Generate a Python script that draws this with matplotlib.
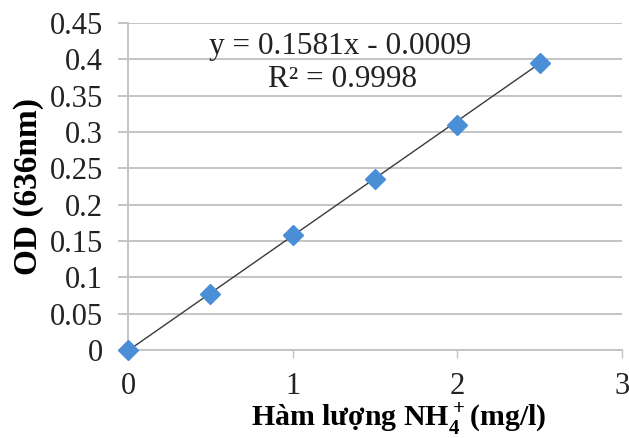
import numpy as np
import matplotlib.pyplot as plt

plt.rcParams['font.family'] = ['Liberation Serif', 'DejaVu Serif']
plt.rcParams['mathtext.fontset'] = 'custom'
plt.rcParams['mathtext.rm'] = 'Liberation Serif:bold'
plt.rcParams['mathtext.bf'] = 'Liberation Serif:bold'

# data
conc = [0, 0.5, 1.0, 1.5, 2.0, 2.5]
od = [0.0, 0.077, 0.158, 0.235, 0.310, 0.395]
slope = 0.1581
intercept = -0.0009
r2 = 0.9998

x_ticks = [0, 1, 2, 3]
y_ticks = [0, 0.05, 0.1, 0.15, 0.2, 0.25, 0.3, 0.35, 0.4, 0.45]
y_tick_labels = ['0', '0.05', '0.1', '0.15', '0.2', '0.25', '0.3', '0.35', '0.4', '0.45']

grid_c = '#c4c4c4'

fig = plt.figure(figsize=(6.29, 4.38), dpi=100)
ax = fig.add_axes([0.2035, 0.2009, 0.7854, 0.7466])

xs = np.array([conc[0], conc[-1]])
ax.plot(xs, slope * xs + intercept, color='#3a3a3a', lw=1.0, zorder=2)
ax.plot(conc, od, linestyle='none', marker='D', markersize=10.5,
        color='#4a8fd6', markeredgecolor='#4a8fd6', zorder=3, clip_on=False)

ax.set_xlim(0, 3)
ax.set_ylim(0, 0.45)
ax.set_xticks(x_ticks)
ax.set_xticklabels([str(t) for t in x_ticks])
ax.set_yticks(y_ticks)
ax.set_yticklabels(y_tick_labels)

ax.yaxis.grid(True, color=grid_c, lw=1.4)
ax.set_axisbelow(True)
for s in ['top', 'right']:
    ax.spines[s].set_visible(False)
for s in ['left', 'bottom']:
    ax.spines[s].set_color(grid_c)
    ax.spines[s].set_linewidth(1.4)

ax.tick_params(axis='y', direction='out', length=7, width=1.4, color=grid_c,
               pad=11, labelsize=22, labelcolor='#222222')
ax.tick_params(axis='x', direction='out', length=6, width=1.0, color=grid_c,
               pad=10, labelsize=22, labelcolor='#222222')

ax.set_xlabel('Hàm lượng NH$_4^+$(mg/l)', fontsize=21.5, fontweight='bold')
ax.xaxis.set_label_coords(0.547, -0.155)
ax.set_ylabel('OD (636nm)', fontsize=24, fontweight='bold')
ax.yaxis.set_label_coords(-0.17, 0.5)

ax.text(0.429, 0.927, f'y = {slope}x - {abs(intercept):.4f}', transform=ax.transAxes,
        ha='center', va='center', fontsize=22.5, color='#222222')
ax.text(0.435, 0.826, f'R² = {r2}', transform=ax.transAxes,
        ha='center', va='center', fontsize=22.5, color='#222222')

fig.savefig('out.png', dpi=100)
